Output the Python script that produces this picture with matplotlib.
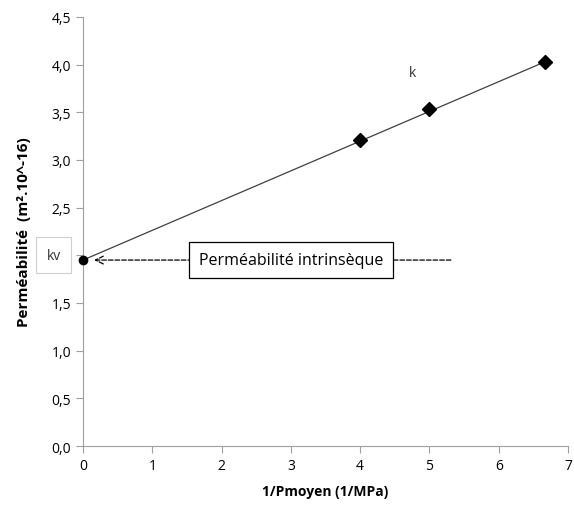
import matplotlib
matplotlib.use("Agg")
import matplotlib.pyplot as plt

# data
inv_p = [4.0, 5.0, 6.67]
perm = [3.21, 3.53, 4.03]
kv_x = 0.0
kv_y = 1.95

plt.rcParams['font.family'] = ['Open Sans', 'DejaVu Sans']

fig = plt.figure(figsize=(5.74, 5.06), dpi=100)
ax = fig.add_axes([0.1446, 0.1166, 0.845, 0.848])

# trend line from kv to the last point
ax.plot([kv_x, inv_p[-1]], [kv_y, perm[-1]], color='#404040', lw=0.9, zorder=2)
ax.plot(inv_p, perm, linestyle='none', marker='D', color='black', ms=7, zorder=3)
ax.plot([kv_x], [kv_y], marker='o', color='black', ms=6, zorder=4, clip_on=False)

# dashed arrow to kv
ax.annotate('', xy=(0.12, kv_y), xytext=(5.35, kv_y),
            arrowprops=dict(arrowstyle='->', linestyle='--', color='black', lw=0.9,
                            mutation_scale=14))
ax.text(3.0, kv_y, 'Perméabilité intrinsèque', ha='center', va='center', fontsize=11.5,
        bbox=dict(boxstyle='square,pad=0.6', facecolor='white', edgecolor='black', lw=0.9))

ax.text(4.76, 3.92, 'k', ha='center', va='center', fontsize=10, color='#333333')
ax.text(-0.42, 2.0, 'kv', ha='center', va='center', fontsize=10, color='#333333',
        clip_on=False,
        bbox=dict(boxstyle='square,pad=0.75', facecolor='white', edgecolor='#d0d0d0', lw=0.8))

ax.set_xlim(0, 7)
ax.set_ylim(0, 4.5)
ax.set_xticks(range(0, 8))
yt = [i * 0.5 for i in range(10)]
ax.set_yticks(yt)
# the 2,0 label is hidden behind the kv box in the original
ax.set_yticklabels(['' if v == 2.0 else f"{v:.1f}".replace('.', ',') for v in yt])

for s in ['top', 'right']:
    ax.spines[s].set_visible(False)
for s in ['left', 'bottom']:
    ax.spines[s].set_color('#a0a0a0')
ax.tick_params(colors='#a0a0a0', labelcolor='black', labelsize=10, length=5)

ax.set_xlabel('1/Pmoyen (1/MPa)', fontweight='bold', fontsize=10, labelpad=8)
ax.set_ylabel('Perméabilité  (m².10^-16)', fontweight='bold', fontsize=11, labelpad=15)

fig.savefig('out.png', dpi=100)
